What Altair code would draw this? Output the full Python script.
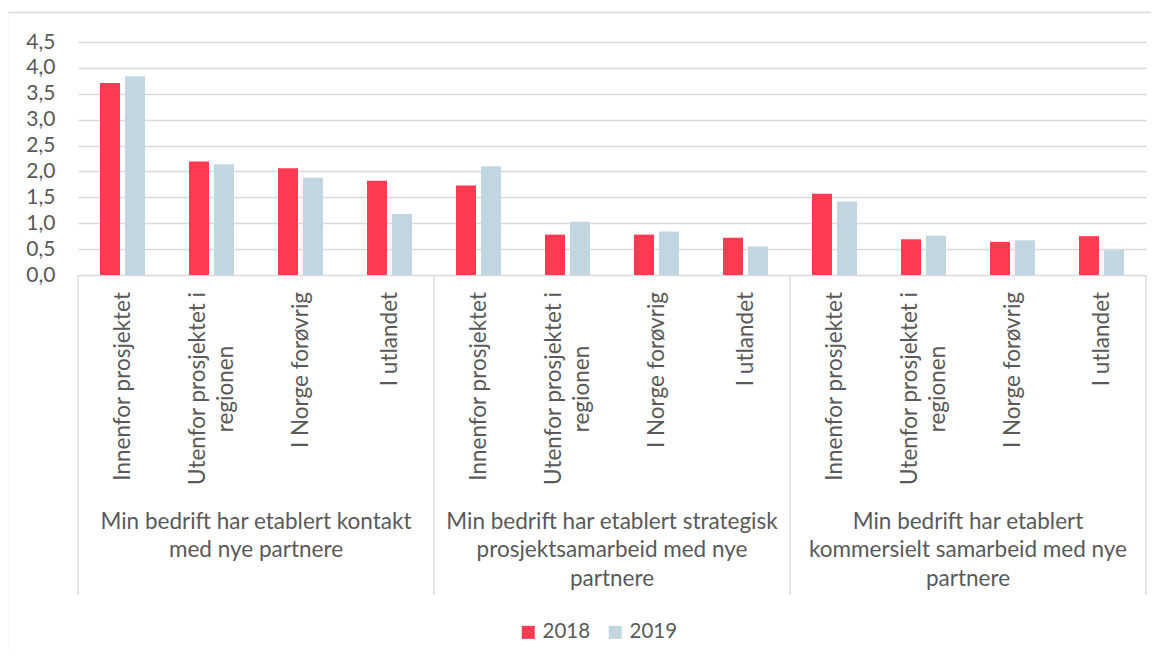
import altair as alt
import pandas as pd

# ---- data ----
groups = [
    "Min bedrift har etablert kontakt\nmed nye partnere",
    "Min bedrift har etablert strategisk\nprosjektsamarbeid med nye\npartnere",
    "Min bedrift har etablert\nkommersielt samarbeid med nye\npartnere",
]
subs = ["Innenfor prosjektet", "Utenfor prosjektet i\nregionen", "I Norge forøvrig", "I utlandet"]
years = ["2018", "2019"]
v2018 = [3.71, 2.19, 2.06, 1.82, 1.73, 0.78, 0.78, 0.72, 1.57, 0.69, 0.64, 0.75]
v2019 = [3.84, 2.14, 1.88, 1.18, 2.10, 1.03, 0.84, 0.55, 1.42, 0.76, 0.67, 0.48]
y_ticks = [0, 0.5, 1.0, 1.5, 2.0, 2.5, 3.0, 3.5, 4.0, 4.5]

RED = "#FF3A52"
BLUE = "#C2D6E2"
GRID = "#D9D9D9"
TXT = "#595959"
FONT = "Lato"
LBL = 22.5

W, H = 1068, 233

keys = [f"{g}|{s}" for g in range(len(groups)) for s in range(len(subs))]

rows = []
for i, k in enumerate(keys):
    rows.append({"key": k, "year": years[0], "value": v2018[i]})
    rows.append({"key": k, "year": years[1], "value": v2019[i]})
bars_df = pd.DataFrame(rows)

lab_rows = []
for k in keys:
    s = subs[int(k.split("|")[1])]
    parts = s.split("\n")
    lab_rows.append({"key": k, "line1": parts[0], "line2": parts[1] if len(parts) > 1 else "", "n": len(parts)})
labels_df = pd.DataFrame(lab_rows)

grp_df = pd.DataFrame({"key": [f"{g}|2" for g in range(len(groups))], "label": groups})
sep_df = pd.DataFrame({"key": [f"{g}|0" for g in range(len(groups))]})
end_df = pd.DataFrame({"key": [keys[-1]]})
one_df = pd.DataFrame({"a": [0]})

xscale = alt.Scale(domain=keys, paddingInner=0, paddingOuter=0)


def xenc(bp=None):
    if bp is None:
        return alt.X("key:N", scale=xscale, axis=None)
    return alt.X("key:N", scale=xscale, axis=None, bandPosition=bp)


bars = alt.Chart(bars_df).mark_bar().encode(
    x=alt.X("key:N", scale=xscale,
            axis=alt.Axis(title=None, labels=False, ticks=False, grid=False,
                          domainColor=GRID, domainWidth=1.3)),
    xOffset=alt.XOffset("year:N", scale=alt.Scale(domain=years, paddingInner=0.2, paddingOuter=0.88)),
    y=alt.Y("value:Q", scale=alt.Scale(domain=[0, 4.5], nice=False),
            axis=alt.Axis(title=None, values=y_ticks, grid=True, gridColor=GRID, gridWidth=1.3,
                          domain=False, ticks=False, tickSize=0, labelPadding=23,
                          labelFontSize=21, labelFont=FONT, labelColor=TXT,
                          labelExpr="replace(format(datum.value, '.1f'), '.', ',')")),
    color=alt.Color("year:N", scale=alt.Scale(domain=years, range=[RED, BLUE]),
                    legend=alt.Legend(orient="none", legendX=440, legendY=580, direction="horizontal",
                                      title=None, symbolType="square", symbolSize=169,
                                      symbolStrokeWidth=0, labelFontSize=20.5, labelFont=FONT,
                                      labelColor=TXT, labelOffset=4, columnPadding=14, padding=0)),
)

lab_single = alt.Chart(labels_df).transform_filter("datum.n == 1").mark_text(
    angle=270, align="right", baseline="middle", font=FONT, fontSize=LBL, color=TXT
).encode(x=xenc(), y=alt.value(H + 17), text="line1:N")

lab_first = alt.Chart(labels_df).transform_filter("datum.n == 2").mark_text(
    angle=270, align="right", baseline="middle", font=FONT, fontSize=LBL, color=TXT, dy=-14
).encode(x=xenc(), y=alt.value(H + 17), text="line1:N")

lab_second = alt.Chart(labels_df).transform_filter("datum.n == 2").mark_text(
    angle=270, align="center", baseline="middle", font=FONT, fontSize=LBL, color=TXT, dy=14
).encode(x=xenc(), y=alt.value(H + 17 + 97), text="line2:N")

grp_text = alt.Chart(grp_df).mark_text(
    align="center", baseline="alphabetic", lineBreak="\n", lineHeight=28.5,
    font=FONT, fontSize=LBL, color=TXT
).encode(x=xenc(0), y=alt.value(486.5), text="label:N")

seps = alt.Chart(sep_df).mark_rule(color=GRID, strokeWidth=1.3).encode(
    x=xenc(0), y=alt.value(H), y2=alt.value(553))
sep_end = alt.Chart(end_df).mark_rule(color=GRID, strokeWidth=1.3).encode(
    x=xenc(1), y=alt.value(H), y2=alt.value(553))

frame_left = alt.Chart(one_df).mark_rule(color=GRID, strokeWidth=1.3).encode(
    x=alt.value(-70.5), y=alt.value(-29.5), y2=alt.value(H + 420))
frame_top = alt.Chart(one_df).mark_rule(color=GRID, strokeWidth=1.3).encode(
    x=alt.value(-70.5), x2=alt.value(W + 30), y=alt.value(-29.5))

chart = alt.layer(
    frame_left, frame_top, bars, seps, sep_end, lab_single, lab_first, lab_second, grp_text
).properties(
    width=W, height=H,
    autosize=alt.AutoSizeParams(type="none"),
    padding={"left": 70, "top": 34, "right": 5, "bottom": 378},
    background="white",
).configure_view(stroke=None)

chart.save("out.html", embed_options={"renderer": "svg", "actions": False})
